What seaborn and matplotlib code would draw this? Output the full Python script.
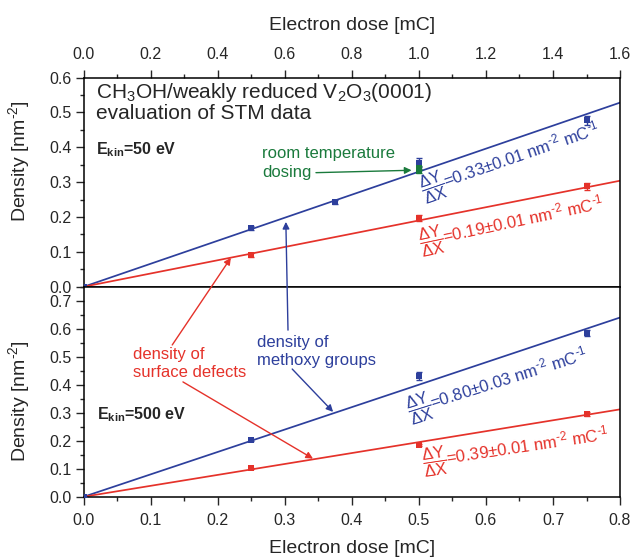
import matplotlib
matplotlib.use("Agg")
import matplotlib.pyplot as plt
import seaborn as sns
import pandas as pd
from matplotlib.ticker import MultipleLocator

# ---------------- data ----------------
top_blue_x = [0.0, 0.5, 0.75, 1.0, 1.5]
top_blue_y = [0.0, 0.168, 0.242, 0.356, 0.477]
top_blue_err = [0.0, 0.006, 0.006, 0.012, 0.012]
top_green_x = [1.0, 1.0]
top_green_y = [0.341, 0.331]
top_green_err = [0.006, 0.006]
top_red_x = [0.5, 1.0, 1.5]
top_red_y = [0.091, 0.197, 0.288]
top_red_err = [0.005, 0.008, 0.010]

bot_blue_x = [0.0, 0.25, 0.5, 0.75]
bot_blue_y = [0.0, 0.202, 0.430, 0.585]
bot_blue_err = [0.0, 0.004, 0.014, 0.012]
bot_red_x = [0.25, 0.5, 0.75]
bot_red_y = [0.101, 0.185, 0.295]
bot_red_err = [0.003, 0.005, 0.006]

top_slopes = [0.33, 0.19]      # blue, red  [nm^-2 mC^-1]
bot_slopes = [0.80, 0.39]
top_fit_x = [0.0, 1.6]
bot_fit_x = [0.0, 0.8]

HY = "\u2010"
top_labels = [r"$\dfrac{\Delta\mathrm{Y}}{\Delta\mathrm{X}}$=0.33±0.01 nm$^{" + HY + r"2}$ mC$^{" + HY + r"1}$",
              r"$\dfrac{\Delta\mathrm{Y}}{\Delta\mathrm{X}}$=0.19±0.01 nm$^{" + HY + r"2}$ mC$^{" + HY + r"1}$"]
bot_labels = [r"$\dfrac{\Delta\mathrm{Y}}{\Delta\mathrm{X}}$=0.80±0.03 nm$^{" + HY + r"2}$ mC$^{" + HY + r"1}$",
              r"$\dfrac{\Delta\mathrm{Y}}{\Delta\mathrm{X}}$=0.39±0.01 nm$^{" + HY + r"2}$ mC$^{" + HY + r"1}$"]
ylab = "Density [nm$^{" + HY + "2}$]"

BLUE = "#2d3f9c"
RED = "#e5322a"
GREEN = "#1a7a3c"

sns.set_style("ticks")
plt.rcParams["font.family"] = ["Liberation Sans", "DejaVu Sans"]
plt.rcParams["mathtext.fontset"] = "custom"
plt.rcParams["mathtext.rm"] = "Liberation Sans"
plt.rcParams["mathtext.it"] = "Liberation Sans:italic"
plt.rcParams["mathtext.bf"] = "Liberation Sans:bold"
plt.rcParams["mathtext.fallback"] = "cm"
plt.rcParams["axes.linewidth"] = 1.1
plt.rcParams["xtick.major.width"] = 1.0
plt.rcParams["ytick.major.width"] = 1.0
plt.rcParams["xtick.minor.width"] = 1.0
plt.rcParams["ytick.minor.width"] = 1.0

fig = plt.figure(figsize=(6.3, 5.6), dpi=100)
ax_top = fig.add_axes([0.1329, 0.488, 0.8513, 0.3736])
ax_bot = fig.add_axes([0.1329, 0.113, 0.8513, 0.375])


def draw_panel(ax, fit_x, slopes, series):
    for slope, col in zip(slopes, [BLUE, RED]):
        df = pd.DataFrame({"x": fit_x, "y": [slope * v for v in fit_x]})
        sns.lineplot(data=df, x="x", y="y", ax=ax, color=col, lw=1.25, zorder=2)
    for xs, ys, es, col in series:
        ax.errorbar(xs, ys, yerr=es, fmt="none", ecolor=col, elinewidth=1.0,
                    capsize=2.2, capthick=1.0, zorder=3)
        sns.scatterplot(x=xs, y=ys, ax=ax, color=col, marker="s", s=18,
                        edgecolor=col, linewidth=0, zorder=4)


draw_panel(ax_top, top_fit_x, top_slopes,
           [(top_blue_x, top_blue_y, top_blue_err, BLUE),
            (top_red_x, top_red_y, top_red_err, RED),
            (top_green_x, top_green_y, top_green_err, GREEN)])
draw_panel(ax_bot, bot_fit_x, bot_slopes,
           [(bot_red_x, bot_red_y, bot_red_err, RED),
            (bot_blue_x, bot_blue_y, bot_blue_err, BLUE)])

# ---------------- axes formatting ----------------
ax_top.set_xlim(0, 1.6)
ax_top.set_ylim(0, 0.6)
ax_bot.set_xlim(0, 0.8)
ax_bot.set_ylim(0, 0.75)

for ax in (ax_top, ax_bot):
    for s in ax.spines.values():
        s.set_visible(True)
        s.set_color("black")
    ax.yaxis.set_major_locator(MultipleLocator(0.1))
    ax.yaxis.set_minor_locator(MultipleLocator(0.05))
    ax.tick_params(axis="y", which="both", direction="out", left=True, right=False,
                   labelsize=11.5, pad=3)
    ax.tick_params(axis="y", which="major", length=5.5)
    ax.tick_params(axis="y", which="minor", length=3)
    ax.set_ylabel(ylab, fontsize=14)
    ax.yaxis.set_major_formatter(matplotlib.ticker.FormatStrFormatter("%.1f"))
    ax.xaxis.set_major_formatter(matplotlib.ticker.FormatStrFormatter("%.1f"))

ax_top.yaxis.set_label_coords(-0.096, 0.601)
ax_bot.yaxis.set_label_coords(-0.096, 0.456)

ax_top.xaxis.set_major_locator(MultipleLocator(0.2))
ax_top.xaxis.set_minor_locator(MultipleLocator(0.1))
ax_top.tick_params(axis="x", which="both", direction="out", top=True, bottom=False,
                   labeltop=True, labelbottom=False, labelsize=11.5, pad=6)
ax_top.tick_params(axis="x", which="major", length=5.5)
ax_top.tick_params(axis="x", which="minor", length=3)
ax_top.xaxis.set_label_position("top")
ax_top.set_xlabel("Electron dose [mC]", fontsize=14, labelpad=12)

ax_bot.xaxis.set_major_locator(MultipleLocator(0.1))
ax_bot.xaxis.set_minor_locator(MultipleLocator(0.05))
ax_bot.tick_params(axis="x", which="both", direction="out", top=False, bottom=True,
                   labelsize=11.5, pad=6)
ax_bot.tick_params(axis="x", which="major", length=5.5)
ax_bot.tick_params(axis="x", which="minor", length=3)
ax_bot.set_xlabel("Electron dose [mC]", fontsize=14, labelpad=9)

# ---------------- texts ----------------
ax_top.text(0.037, 0.541, "CH$_3$OH/weakly reduced V$_2$O$_3$(0001)", fontsize=15,
            ha="left", va="baseline")
ax_top.text(0.037, 0.481, "evaluation of STM data", fontsize=15, ha="left", va="baseline")
ax_top.text(0.037, 0.381, r"$\mathbf{E}_{\mathbf{kin}}$=50 eV", fontsize=11.5,
            fontweight="bold", ha="left", va="baseline")
ax_bot.text(0.0198, 0.276, r"$\mathbf{E}_{\mathbf{kin}}$=500 eV", fontsize=11.5,
            fontweight="bold", ha="left", va="baseline")

# slope labels
for ax, labels, pos, rots in [
        (ax_top, top_labels, [(1.274, 0.362), (1.277, 0.180)], [19, 12]),
        (ax_bot, bot_labels, [(0.618, 0.4025), (0.644, 0.170)], [17.5, 8.5])]:
    for lab, (px, py), rot, col in zip(labels, pos, rots, [BLUE, RED]):
        ax.text(px, py, lab, color=col, fontsize=12, rotation=rot,
                rotation_mode="anchor", ha="center", va="center")

# green annotation
ax_top.text(0.5316, 0.368, "room temperature", color=GREEN, fontsize=12,
            ha="left", va="baseline")
ax_top.annotate("dosing", xy=(0.978, 0.334), xytext=(0.5316, 0.316),
                color=GREEN, fontsize=12, ha="left", va="baseline",
                arrowprops=dict(arrowstyle="-|>", color=GREEN, lw=1.0,
                                mutation_scale=10, shrinkA=1, shrinkB=0,
                                relpos=(1.0, 0.45)))

# blue annotation
ax_bot.text(0.2585, 0.5336, "density of", color=BLUE, fontsize=12, ha="left", va="baseline")
ax_bot.text(0.2585, 0.469, "methoxy groups", color=BLUE, fontsize=12, ha="left", va="baseline")
ax_bot.annotate("", xy=(0.603, 0.186), xycoords=ax_top.transData,
                xytext=(0.3047, 0.595), textcoords=ax_bot.transData,
                arrowprops=dict(arrowstyle="-|>", color=BLUE, lw=1.0,
                                mutation_scale=10, shrinkA=0, shrinkB=0))
ax_bot.annotate("", xy=(0.372, 0.303), xytext=(0.311, 0.456),
                arrowprops=dict(arrowstyle="-|>", color=BLUE, lw=1.0,
                                mutation_scale=10, shrinkA=0, shrinkB=0))

# red annotation
ax_bot.text(0.0735, 0.492, "density of", color=RED, fontsize=12, ha="left", va="baseline")
ax_bot.text(0.0735, 0.4275, "surface defects", color=RED, fontsize=12, ha="left", va="baseline")
ax_bot.annotate("", xy=(0.439, 0.083), xycoords=ax_top.transData,
                xytext=(0.132, 0.542), textcoords=ax_bot.transData,
                arrowprops=dict(arrowstyle="-|>", color=RED, lw=1.0,
                                mutation_scale=10, shrinkA=0, shrinkB=0))
ax_bot.annotate("", xy=(0.342, 0.136), xytext=(0.148, 0.41),
                arrowprops=dict(arrowstyle="-|>", color=RED, lw=1.0,
                                mutation_scale=10, shrinkA=0, shrinkB=0))

fig.savefig("out.png", dpi=100)
